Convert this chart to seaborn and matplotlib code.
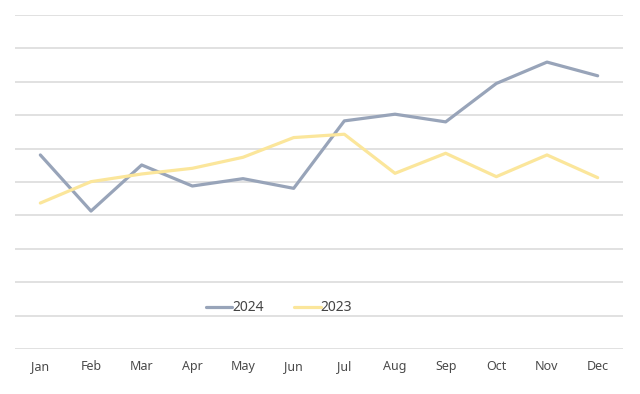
import pandas as pd
import matplotlib
matplotlib.use('Agg')
from matplotlib import pyplot as plt
import seaborn as sns

# data (grid units: 10 per gridline)
months = ['Jan', 'Feb', 'Mar', 'Apr', 'May', 'Jun',
          'Jul', 'Aug', 'Sep', 'Oct', 'Nov', 'Dec']
sales_2024 = [58.1, 41.3, 55.1, 48.8, 51.0, 48.1, 68.3, 70.3, 68.0, 79.5, 85.9, 81.8]
sales_2023 = [43.7, 50.1, 52.4, 54.1, 57.4, 63.3, 64.3, 52.6, 58.6, 51.6, 58.1, 51.3]
years = ['2024', '2023']
colors = ['#98a4b9', '#fbe69b']

df = pd.concat([
    pd.DataFrame({'month': months, 'value': sales_2024, 'year': '2024'}),
    pd.DataFrame({'month': months, 'value': sales_2023, 'year': '2023'}),
])

sns.set_theme(style='white')
plt.rcParams['font.family'] = ['Noto Sans', 'DejaVu Sans']

fig = plt.figure(figsize=(6.4, 3.94), dpi=100)
ax = fig.add_axes([15/640, 1 - 349/394, 608/640, 334/394])

sns.lineplot(data=df, x='month', y='value', hue='year', hue_order=years,
             palette=colors, linewidth=2.3, sort=False, ax=ax)

ax.set_xlim(-0.5, 11.5)
ax.set_ylim(0, 100)
ax.set_yticks(range(0, 101, 10))
ax.set_yticklabels([])
ax.yaxis.grid(True, color='#dcdcdc', linewidth=1.2)
ax.set_axisbelow(True)
for s in ax.spines.values():
    s.set_visible(False)
ax.tick_params(axis='both', length=0)
ax.tick_params(axis='x', pad=8, labelsize=9, labelcolor='#4a4a4a')
for t in ax.get_xticklabels():
    t.set_fontweight('semibold')
ax.set_xlabel('')
ax.set_ylabel('')

ax.legend(loc='center', bbox_to_anchor=(0.434, 0.123), ncol=2, frameon=False,
          handlelength=1.9, handletextpad=0.0, columnspacing=2.2,
          fontsize=10, labelcolor='#444444')

fig.savefig('out.png', dpi=100)
